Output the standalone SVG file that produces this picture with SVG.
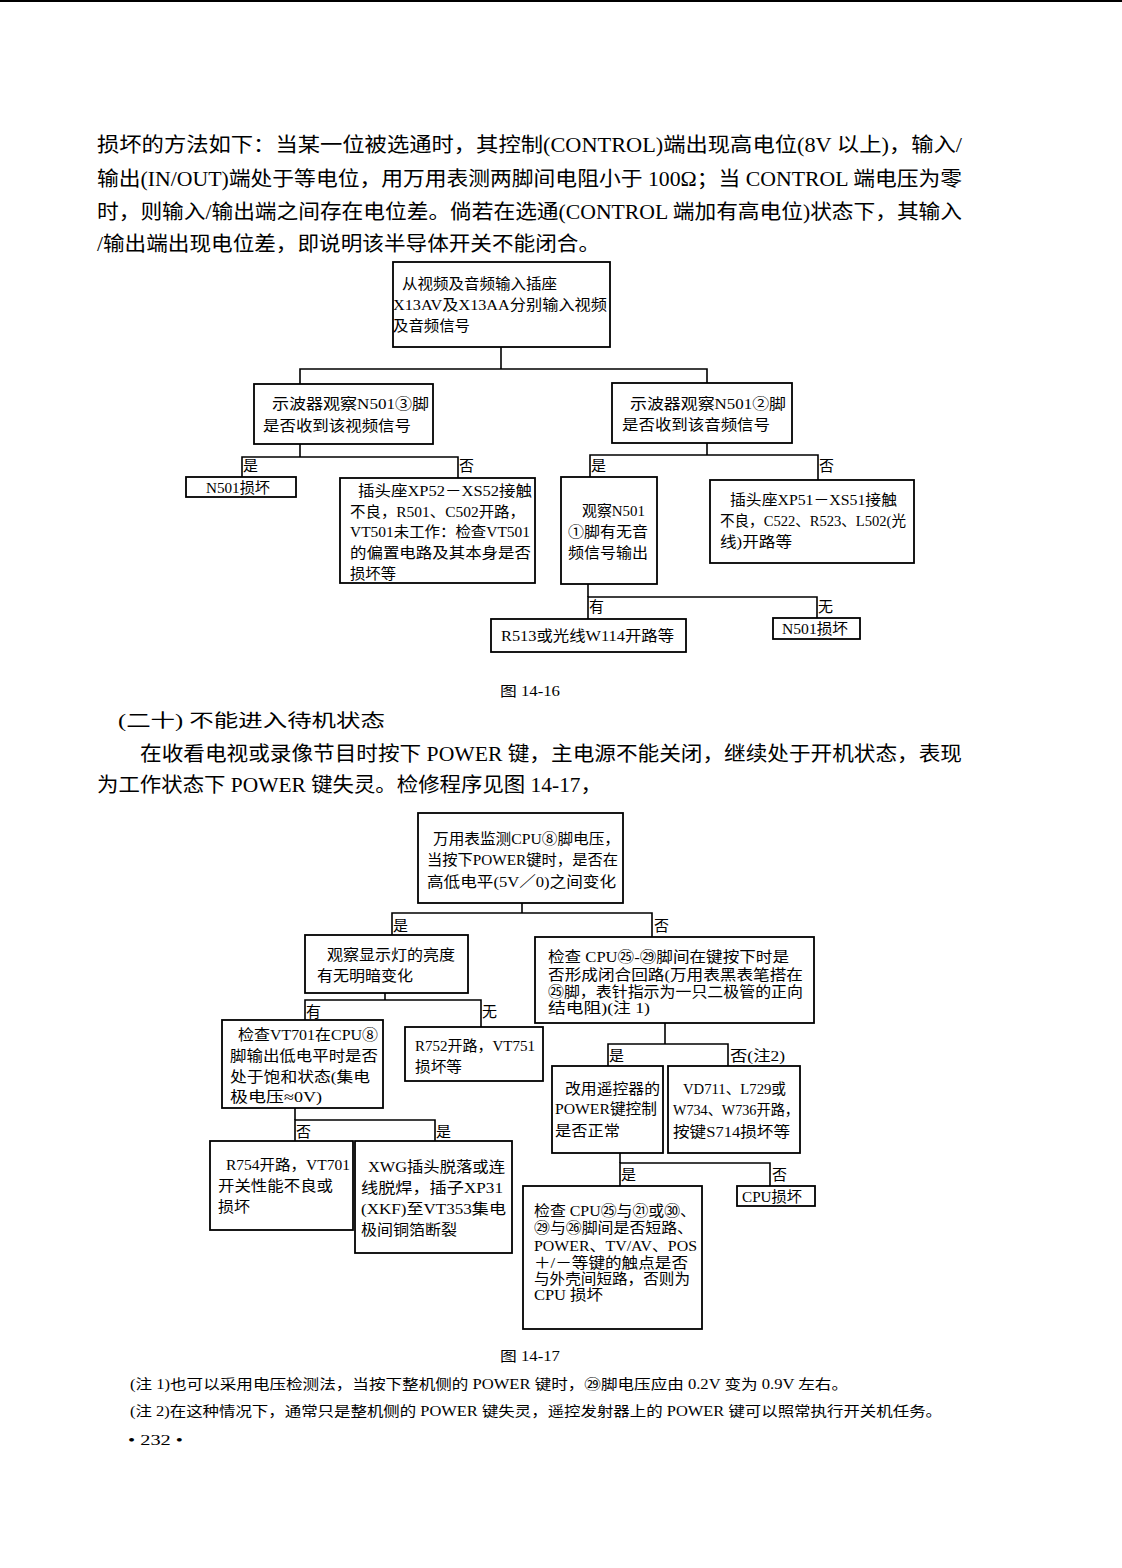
<svg xmlns="http://www.w3.org/2000/svg" width="1122" height="1568" viewBox="0 0 1122 1568">
<style>
text{font-family:"Liberation Serif","Noto Sans CJK SC",serif;fill:#000}
.p{font-size:20px}
.f{font-size:15px}
.s{font-size:14px}
.box{fill:#fff;stroke:#000;stroke-width:1.8}
.ln{fill:none;stroke:#000;stroke-width:1.6}
</style>
<rect x="0" y="0" width="1122" height="1568" fill="#fff"/>
<line x1="0" y1="1" x2="1122" y2="1" stroke="#000" stroke-width="2"/>

<g id="para1" class="p">
<text x="97" y="152" textLength="865" lengthAdjust="spacingAndGlyphs">损坏的方法如下：当某一位被选通时，其控制(CONTROL)端出现高电位(8V 以上)，输入/</text>
<text x="97" y="186" textLength="865" lengthAdjust="spacingAndGlyphs">输出(IN/OUT)端处于等电位，用万用表测两脚间电阻小于 100Ω；当 CONTROL 端电压为零</text>
<text x="97" y="219" textLength="865" lengthAdjust="spacingAndGlyphs">时，则输入/输出端之间存在电位差。倘若在选通(CONTROL 端加有高电位)状态下，其输入</text>
<text x="97" y="251" textLength="503" lengthAdjust="spacingAndGlyphs">/输出端出现电位差，即说明该半导体开关不能闭合。</text>
</g>

<!-- Figure 14-16 -->
<g id="f1-connectors">
<polyline class="ln" points="501,347 501,369"/>
<polyline class="ln" points="300,384 300,369 707,369 707,383"/>
<polyline class="ln" points="300,444 300,457"/>
<polyline class="ln" points="242,477 242,457 458,457 458,478"/>
<polyline class="ln" points="707,443 707,455"/>
<polyline class="ln" points="590,477 590,455 818,455 818,480"/>
<polyline class="ln" points="588,584 588,597"/>
<polyline class="ln" points="588,619 588,597 817,597 817,618"/>
<text class="f" x="243" y="471">是</text>
<text class="f" x="459" y="471">否</text>
<text class="f" x="591" y="471">是</text>
<text class="f" x="819" y="471">否</text>
<text class="f" x="589" y="612">有</text>
<text class="f" x="818" y="612">无</text>
</g>
<g id="f1-top">
<rect class="box" x="393" y="262" width="217" height="85"/>
<text class="f" x="402" y="289" textLength="155" lengthAdjust="spacingAndGlyphs">从视频及音频输入插座</text>
<text class="f" x="393" y="310" textLength="214" lengthAdjust="spacingAndGlyphs">X13AV及X13AA分别输入视频</text>
<text class="f" x="393" y="331" textLength="77" lengthAdjust="spacingAndGlyphs">及音频信号</text>
</g>
<g id="f1-video">
<rect class="box" x="254" y="384" width="179" height="60"/>
<text class="f" x="272" y="409" textLength="157" lengthAdjust="spacingAndGlyphs">示波器观察N501③脚</text>
<text class="f" x="263" y="431" textLength="148" lengthAdjust="spacingAndGlyphs">是否收到该视频信号</text>
</g>
<g id="f1-audio">
<rect class="box" x="612" y="383" width="180" height="60"/>
<text class="f" x="630" y="409" textLength="156" lengthAdjust="spacingAndGlyphs">示波器观察N501②脚</text>
<text class="f" x="622" y="430" textLength="148" lengthAdjust="spacingAndGlyphs">是否收到该音频信号</text>
</g>
<g id="f1-n501a">
<rect class="box" x="186" y="477" width="110" height="20"/>
<text class="f" x="206" y="493" textLength="64" lengthAdjust="spacingAndGlyphs">N501损坏</text>
</g>
<g id="f1-xp52">
<rect class="box" x="340" y="478" width="195" height="105"/>
<text class="f" x="358" y="496" textLength="174" lengthAdjust="spacingAndGlyphs">插头座XP52－XS52接触</text>
<text class="f" x="350" y="517" textLength="175" lengthAdjust="spacingAndGlyphs">不良，R501、C502开路，</text>
<text class="f" x="350" y="537" textLength="180" lengthAdjust="spacingAndGlyphs">VT501未工作：检查VT501</text>
<text class="f" x="350" y="558" textLength="181" lengthAdjust="spacingAndGlyphs">的偏置电路及其本身是否</text>
<text class="f" x="350" y="579" textLength="46" lengthAdjust="spacingAndGlyphs">损坏等</text>
</g>
<g id="f1-observe">
<rect class="box" x="561" y="477" width="96" height="107"/>
<text class="f" x="582" y="516" textLength="63" lengthAdjust="spacingAndGlyphs">观察N501</text>
<text class="f" x="568" y="537" textLength="80" lengthAdjust="spacingAndGlyphs">①脚有无音</text>
<text class="f" x="568" y="558" textLength="80" lengthAdjust="spacingAndGlyphs">频信号输出</text>
</g>
<g id="f1-xp51">
<rect class="box" x="710" y="480" width="204" height="83"/>
<text class="f" x="730" y="505" textLength="167" lengthAdjust="spacingAndGlyphs">插头座XP51－XS51接触</text>
<text class="f" x="720" y="526" textLength="186" lengthAdjust="spacingAndGlyphs">不良，C522、R523、L502(光</text>
<text class="f" x="720" y="547" textLength="72" lengthAdjust="spacingAndGlyphs">线)开路等</text>
</g>
<g id="f1-r513">
<rect class="box" x="491" y="619" width="195" height="33"/>
<text class="f" x="501" y="641" textLength="173" lengthAdjust="spacingAndGlyphs">R513或光线W114开路等</text>
</g>
<g id="f1-n501b">
<rect class="box" x="773" y="618" width="87" height="21"/>
<text class="f" x="782" y="634" textLength="66" lengthAdjust="spacingAndGlyphs">N501损坏</text>
</g>
<text class="s" x="500" y="696" textLength="60" lengthAdjust="spacingAndGlyphs">图 14-16</text>

<g id="section" >
<text x="118" y="727" font-size="18" textLength="267" lengthAdjust="spacingAndGlyphs">(二十) 不能进入待机状态</text>
<text class="p" x="140" y="761" textLength="822" lengthAdjust="spacingAndGlyphs">在收看电视或录像节目时按下 POWER 键，主电源不能关闭，继续处于开机状态，表现</text>
<text class="p" x="97" y="792" textLength="505" lengthAdjust="spacingAndGlyphs">为工作状态下 POWER 键失灵。检修程序见图 14-17，</text>
</g>

<!-- Figure 14-17 -->
<g id="f2-connectors">
<polyline class="ln" points="522,903 522,913"/>
<polyline class="ln" points="392,935 392,913 652,913 652,937"/>
<polyline class="ln" points="385,993 385,1000"/>
<polyline class="ln" points="305,1020 305,1000 481,1000 481,1027"/>
<polyline class="ln" points="295,1108 295,1120"/>
<polyline class="ln" points="295,1141 295,1120 435,1120 435,1141"/>
<polyline class="ln" points="665,1023 665,1044"/>
<polyline class="ln" points="608,1066 608,1044 728,1044 728,1066"/>
<polyline class="ln" points="620,1153 620,1163"/>
<polyline class="ln" points="620,1186 620,1163 770,1163 770,1186"/>
<text class="f" x="393" y="931">是</text>
<text class="f" x="654" y="931">否</text>
<text class="f" x="306" y="1017">有</text>
<text class="f" x="482" y="1017">无</text>
<text class="f" x="296" y="1137">否</text>
<text class="f" x="436" y="1137">是</text>
<text class="f" x="609" y="1061">是</text>
<text class="f" x="730" y="1061" textLength="55" lengthAdjust="spacingAndGlyphs">否(注2)</text>
<text class="f" x="621" y="1180">是</text>
<text class="f" x="772" y="1180">否</text>
</g>
<g id="f2-top">
<rect class="box" x="418" y="813" width="205" height="90"/>
<text class="f" x="433" y="844" textLength="187" lengthAdjust="spacingAndGlyphs">万用表监测CPU⑧脚电压，</text>
<text class="f" x="427" y="865" textLength="191" lengthAdjust="spacingAndGlyphs">当按下POWER键时，是否在</text>
<text class="f" x="427" y="887" textLength="189" lengthAdjust="spacingAndGlyphs">高低电平(5V／0)之间变化</text>
</g>
<g id="f2-lamp">
<rect class="box" x="305" y="935" width="163" height="58"/>
<text class="f" x="327" y="960" textLength="128" lengthAdjust="spacingAndGlyphs">观察显示灯的亮度</text>
<text class="f" x="317" y="981" textLength="96" lengthAdjust="spacingAndGlyphs">有无明暗变化</text>
</g>
<g id="f2-cpucheck">
<rect class="box" x="535" y="937" width="279" height="86"/>
<text class="f" x="548" y="962" textLength="241" lengthAdjust="spacingAndGlyphs">检查 CPU㉕-㉙脚间在键按下时是</text>
<text class="f" x="548" y="980" textLength="255" lengthAdjust="spacingAndGlyphs">否形成闭合回路(万用表黑表笔搭在</text>
<text class="f" x="548" y="997" textLength="255" lengthAdjust="spacingAndGlyphs">㉕脚，表针指示为一只二极管的正向</text>
<text class="f" x="548" y="1013" textLength="102" lengthAdjust="spacingAndGlyphs">结电阻)(注 1)</text>
</g>
<g id="f2-vt701">
<rect class="box" x="222" y="1020" width="161" height="88"/>
<text class="f" x="238" y="1040" textLength="140" lengthAdjust="spacingAndGlyphs">检查VT701在CPU⑧</text>
<text class="f" x="230" y="1061" textLength="148" lengthAdjust="spacingAndGlyphs">脚输出低电平时是否</text>
<text class="f" x="230" y="1082" textLength="140" lengthAdjust="spacingAndGlyphs">处于饱和状态(集电</text>
<text class="f" x="230" y="1102" textLength="92" lengthAdjust="spacingAndGlyphs">极电压≈0V)</text>
</g>
<g id="f2-r752">
<rect class="box" x="405" y="1027" width="138" height="54"/>
<text class="f" x="415" y="1051" textLength="120" lengthAdjust="spacingAndGlyphs">R752开路，VT751</text>
<text class="f" x="415" y="1072" textLength="47" lengthAdjust="spacingAndGlyphs">损坏等</text>
</g>
<g id="f2-r754">
<rect class="box" x="210" y="1141" width="143" height="89"/>
<text class="f" x="226" y="1170" textLength="124" lengthAdjust="spacingAndGlyphs">R754开路，VT701</text>
<text class="f" x="218" y="1191" textLength="115" lengthAdjust="spacingAndGlyphs">开关性能不良或</text>
<text class="f" x="218" y="1212" textLength="32" lengthAdjust="spacingAndGlyphs">损坏</text>
</g>
<g id="f2-xwg">
<rect class="box" x="355" y="1141" width="157" height="112"/>
<text class="f" x="368" y="1172" textLength="137" lengthAdjust="spacingAndGlyphs">XWG插头脱落或连</text>
<text class="f" x="361" y="1193" textLength="142" lengthAdjust="spacingAndGlyphs">线脱焊，插子XP31</text>
<text class="f" x="361" y="1214" textLength="145" lengthAdjust="spacingAndGlyphs">(XKF)至VT353集电</text>
<text class="f" x="361" y="1235" textLength="96" lengthAdjust="spacingAndGlyphs">极间铜箔断裂</text>
</g>
<g id="f2-remote">
<rect class="box" x="552" y="1066" width="111" height="87"/>
<text class="f" x="565" y="1094" textLength="95" lengthAdjust="spacingAndGlyphs">改用遥控器的</text>
<text class="f" x="555" y="1114" textLength="102" lengthAdjust="spacingAndGlyphs">POWER键控制</text>
<text class="f" x="555" y="1136" textLength="65" lengthAdjust="spacingAndGlyphs">是否正常</text>
</g>
<g id="f2-vd711">
<rect class="box" x="668" y="1066" width="132" height="87"/>
<text class="f" x="683" y="1094" textLength="103" lengthAdjust="spacingAndGlyphs">VD711、L729或</text>
<text class="f" x="673" y="1115" textLength="126" lengthAdjust="spacingAndGlyphs">W734、W736开路，</text>
<text class="f" x="673" y="1137" textLength="117" lengthAdjust="spacingAndGlyphs">按键S714损坏等</text>
</g>
<g id="f2-short">
<rect class="box" x="523" y="1186" width="179" height="143"/>
<text class="f" x="534" y="1216" textLength="162" lengthAdjust="spacingAndGlyphs">检查 CPU㉕与㉑或㉚、</text>
<text class="f" x="534" y="1233" textLength="159" lengthAdjust="spacingAndGlyphs">㉙与㉖脚间是否短路、</text>
<text class="f" x="534" y="1251" textLength="163" lengthAdjust="spacingAndGlyphs">POWER、TV/AV、POS</text>
<text class="f" x="534" y="1268" textLength="154" lengthAdjust="spacingAndGlyphs">＋/－等键的触点是否</text>
<text class="f" x="534" y="1284" textLength="156" lengthAdjust="spacingAndGlyphs">与外壳间短路，否则为</text>
<text class="f" x="534" y="1300" textLength="69" lengthAdjust="spacingAndGlyphs">CPU 损坏</text>
</g>
<g id="f2-cpubad">
<rect class="box" x="737" y="1186" width="78" height="20"/>
<text class="f" x="742" y="1202" textLength="60" lengthAdjust="spacingAndGlyphs">CPU损坏</text>
</g>
<text class="s" x="500" y="1361" textLength="60" lengthAdjust="spacingAndGlyphs">图 14-17</text>

<g id="notes" class="s">
<text x="130" y="1389" textLength="718" lengthAdjust="spacingAndGlyphs">(注 1)也可以采用电压检测法，当按下整机侧的 POWER 键时，㉙脚电压应由 0.2V 变为 0.9V 左右。</text>
<text x="130" y="1416" textLength="812" lengthAdjust="spacingAndGlyphs">(注 2)在这种情况下，通常只是整机侧的 POWER 键失灵，遥控发射器上的 POWER 键可以照常执行开关机任务。</text>
<text x="128" y="1445" textLength="55" lengthAdjust="spacingAndGlyphs">• 232 •</text>
</g>
</svg>
